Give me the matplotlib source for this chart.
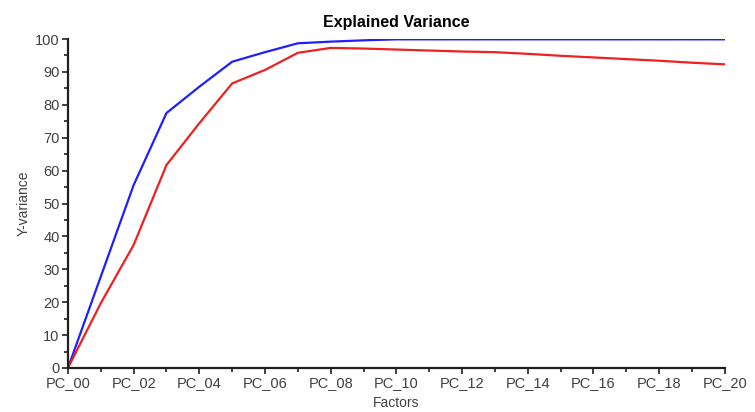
import numpy as np
import matplotlib
matplotlib.use("Agg")
import matplotlib.pyplot as plt
from matplotlib.ticker import MultipleLocator

plt.rcParams['font.family'] = ['Liberation Sans', 'DejaVu Sans']

# data
#-----------------------------------------------------------------------------#
factors = [f"PC_{i:02d}" for i in range(21)]
blue_var = [0, 27.8, 55.6, 77.5, 85.5, 93.1, 96.0, 98.7, 99.2, 99.6, 99.9,
            99.9, 99.9, 99.9, 99.9, 99.9, 99.9, 99.9, 99.9, 99.9, 99.9]
red_var = [0, 19.7, 37.4, 61.7, 74.4, 86.5, 90.6, 95.8, 97.3, 97.1, 96.8,
           96.5, 96.2, 96.0, 95.5, 94.9, 94.4, 93.9, 93.4, 92.8, 92.3]

#plotting
#-----------------------------------------------------------------------------#
fig = plt.figure(figsize=(7.55, 4.12), dpi=100)
ax = fig.add_axes([0.090, 0.1068, 0.870, 0.7985])

xpos = np.arange(len(factors))
ax.plot(xpos, blue_var, color='#1f1fff', lw=1.6, solid_joinstyle='round')
ax.plot(xpos, red_var, color='#ee2020', lw=1.6, solid_joinstyle='round')

ax.set_xlim(0, 20)
ax.set_ylim(0, 100)
ax.set_xticks(xpos[::2])
ax.set_xticklabels(factors[::2])
ax.xaxis.set_minor_locator(MultipleLocator(1))
ax.yaxis.set_major_locator(MultipleLocator(10))
ax.yaxis.set_minor_locator(MultipleLocator(5))

for s in ['top', 'right']:
    ax.spines[s].set_visible(False)
for s in ['left', 'bottom']:
    ax.spines[s].set_linewidth(1.6)
    ax.spines[s].set_color('#202020')

ax.tick_params(which='both', direction='out', color='#202020', width=1.2)
ax.tick_params(which='major', length=4, labelsize=10.5, labelcolor='#404040', pad=2)
ax.tick_params(which='minor', length=3)

ax.set_title("Explained Variance", fontsize=11.5, fontweight='bold', pad=9)
ax.set_xlabel("Factors", fontsize=10, color='#404040', labelpad=4)
ax.set_ylabel("Y-variance", fontsize=10, color='#404040', labelpad=3)

fig.savefig("out.png", dpi=100)
